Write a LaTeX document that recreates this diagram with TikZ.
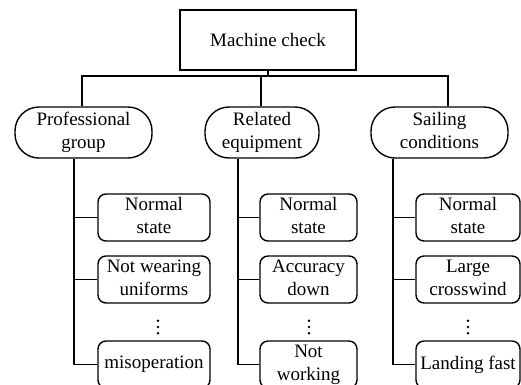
\documentclass[tikz,border=0pt]{standalone}
\usepackage{fontspec}
\setmainfont{Liberation Serif}
\begin{document}
\begin{tikzpicture}[x=1pt,y=-1pt,
  every node/.style={font=\fontsize{19}{23}\selectfont, align=center, inner sep=0pt},
  line/.style={line width=1.4pt},
  topbox/.style={draw, line width=1.4pt, minimum width=176pt, minimum height=60pt},
  grp/.style={draw, line width=1.4pt, rounded corners=24pt, minimum height=51pt},
  leaf/.style={draw, line width=1.4pt, rounded corners=8pt, minimum height=47pt},
  dot/.style={circle, fill, inner sep=0pt, minimum size=2.8pt}]
\useasboundingbox (0,0) rectangle (521,384);
\clip (0,0) rectangle (521,384);
% top
\node[topbox] (top) at (268,40) {Machine check};
% groups
\node[grp, minimum width=137pt] (PG) at (83.5,132.5) {\strut Professional\\\strut group};
\node[grp, minimum width=114pt] (RE) at (262,132.5) {\strut Related\\\strut equipment};
\node[grp, minimum width=137pt] (SC) at (439.5,132.5) {\strut Sailing\\\strut conditions};
% bus
\coordinate (bus) at (268,76);
\coordinate (dL) at (82,76);
\coordinate (dM) at (261,76);
\coordinate (dR) at (448,76);
\draw[line] (top.south) -- (bus);
\draw[line] (dL |- PG.north) -- (dL) -- (dR) -- (dR |- SC.north);
\draw[line] (dM) -- (dM |- RE.north);
% spines
\coordinate (sL) at (74,0);
\coordinate (sM) at (238,0);
\coordinate (sR) at (393,0);
% leaves left
\node[leaf, minimum width=112pt] (L1) at (154,217.5) {\strut Normal\\\strut state};
\node[leaf, minimum width=112pt] (L2) at (154,279.5) {\strut Not wearing\\\strut uniforms};
\node[leaf, minimum width=112pt] (L3) at (154,364.5) {misoperation};
% leaves middle
\node[leaf, minimum width=97pt] (M1) at (308.5,217.5) {\strut Normal\\\strut state};
\node[leaf, minimum width=97pt] (M2) at (308.5,279.5) {\strut Accuracy\\\strut down};
\node[leaf, minimum width=97pt] (M3) at (308.5,364.5) {\strut Not\\\strut working};
% leaves right
\node[leaf, minimum width=104pt] (R1) at (468,217.5) {\strut Normal\\\strut state};
\node[leaf, minimum width=104pt] (R2) at (468,279.5) {\strut Large\\\strut crosswind};
\node[leaf, minimum width=104pt] (R3) at (468,364.5) {Landing fast};
% connectors
\draw[line] (sL |- PG.south) |- (L3.west);
\draw[line] (sL |- L1.west) -- (L1.west);
\draw[line] (sL |- L2.west) -- (L2.west);
\draw[line] (sM |- RE.south) |- (M3.west);
\draw[line] (sM |- M1.west) -- (M1.west);
\draw[line] (sM |- M2.west) -- (M2.west);
\draw[line] (sR |- SC.south) |- (R3.west);
\draw[line] (sR |- R1.west) -- (R1.west);
\draw[line] (sR |- R2.west) -- (R2.west);
% dots
\foreach \n/\x in {a/158, b/309, c/468}{
  \node[dot] (\n1) at (\x,320.7) {};
  \node[dot] (\n2) at (\x,327) {};
  \node[dot] (\n3) at (\x,333.3) {};
}
\end{tikzpicture}
\end{document}
